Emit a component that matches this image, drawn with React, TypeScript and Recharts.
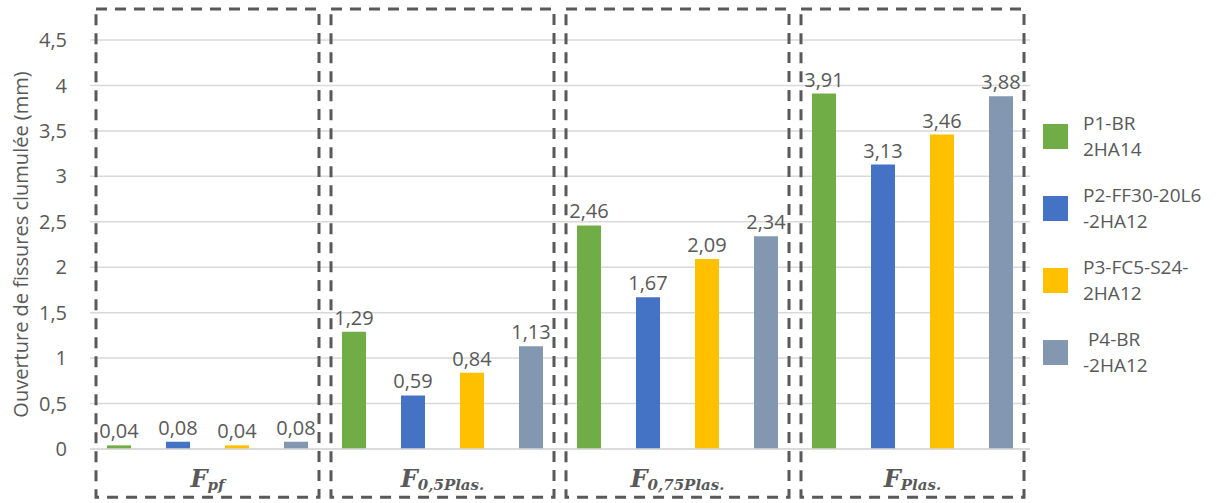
import React from "react";
import {
  BarChart,
  Bar,
  XAxis,
  YAxis,
  CartesianGrid,
  LabelList,
  ReferenceArea,
} from "recharts";

// categories: "F" with a subscript
const categories = ["pf", "0,5Plas.", "0,75Plas.", "Plas."];

const p1 = [0.04, 1.29, 2.46, 3.91];
const p2 = [0.08, 0.59, 1.67, 3.13];
const p3 = [0.04, 0.84, 2.09, 3.46];
const p4 = [0.08, 1.13, 2.34, 3.88];

const seriesKeys = ["p1", "p2", "p3", "p4"];
const seriesLabels = [
  ["P1-BR", "2HA14"],
  ["P2-FF30-20L6", "-2HA12"],
  ["P3-FC5-S24-", "2HA12"],
  [" P4-BR", "-2HA12"],
];
const seriesColors = ["#70AD47", "#4472C4", "#FFC000", "#8497B0"];

const yTicks = [0, 0.5, 1, 1.5, 2, 2.5, 3, 3.5, 4, 4.5];
const yTitle = "Ouverture de fissures clumulée (mm)";

// dashed frames around each group, in axis units
const frameBottom = -0.53;
const frameTop = 4.84;

const data = categories.map((c, i) => ({
  cat: c,
  p1: p1[i],
  p2: p2[i],
  p3: p3[i],
  p4: p4[i],
}));

const TEXT = "#595959";
const GRID = "#d9d9d9";
const FONT = "'Open Sans', 'DejaVu Sans', sans-serif";

const fmt = (v: any) => String(v).replace(".", ",");

const CatTick = (props: any) => {
  const { x, y, payload } = props;
  return (
    <text
      x={x}
      y={y}
      dy={36}
      textAnchor="middle"
      fill={TEXT}
      fontFamily="'DejaVu Serif', serif"
      fontWeight="bold"
      fontStyle="italic"
    >
      <tspan fontSize={24}>F</tspan>
      <tspan fontSize={15} dy={3}>
        {payload.value}
      </tspan>
    </text>
  );
};

const Frame = (props: any) => {
  const { x, y, width, height } = props;
  return (
    <rect
      x={x + 6}
      y={y}
      width={width - 12}
      height={height}
      fill="none"
      stroke={TEXT}
      strokeWidth={3}
      strokeDasharray="11 8"
    />
  );
};

const YTitle = (props: any) => {
  const vb = props.viewBox || {};
  const cx = 20;
  const cy = vb.y + vb.height / 2;
  return (
    <text
      x={cx}
      y={cy}
      transform={`rotate(-90, ${cx}, ${cy})`}
      textAnchor="middle"
      dominantBaseline="central"
      fill={TEXT}
      fontSize={20}
      fontFamily={FONT}
    >
      {yTitle}
    </text>
  );
};

export default function App() {
  return (
    <div style={{ position: "relative", width: 1220, height: 503, background: "#fff" }}>
      <style>{`body{margin:0;}`}</style>
      <BarChart
        width={1220}
        height={503}
        data={data}
        margin={{ top: 40, right: 190, left: 0, bottom: 0 }}
        barSize={24}
        barGap={35}
      >
        <CartesianGrid vertical={false} stroke={GRID} strokeWidth={1.5} />
        <XAxis
          dataKey="cat"
          height={54}
          axisLine={{ stroke: GRID, strokeWidth: 1.5 }}
          tickLine={false}
          tickSize={0}
          tick={<CatTick />}
          interval={0}
        />
        <YAxis
          width={90}
          domain={[0, 4.5]}
          ticks={yTicks}
          axisLine={false}
          tickLine={false}
          tickSize={0}
          tickMargin={23}
          tickFormatter={fmt}
          tick={{ fill: TEXT, fontSize: 20, fontFamily: FONT }}
          label={{ content: <YTitle /> }}
        />
        {categories.map((c) => (
          <ReferenceArea
            key={c}
            x1={c}
            x2={c}
            y1={frameBottom}
            y2={frameTop}
            ifOverflow="visible"
            shape={<Frame />}
          />
        ))}
        {seriesKeys.map((k, i) => (
          <Bar
            key={k}
            dataKey={k}
            name={seriesLabels[i].join(" ")}
            fill={seriesColors[i]}
            isAnimationActive={false}
          >
            <LabelList
              dataKey={k}
              position="top"
              offset={7}
              formatter={fmt}
              fill={TEXT}
              fontSize={20}
              fontFamily={FONT}
            />
          </Bar>
        ))}
      </BarChart>
      <div
        style={{
          position: "absolute",
          left: 1043,
          top: 100,
          fontFamily: FONT,
          fontSize: 19,
          color: TEXT,
        }}
      >
        {seriesLabels.map((lines, i) => (
          <div
            key={i}
            style={{ display: "flex", alignItems: "center", height: 72 }}
          >
            <div
              style={{
                width: 25,
                height: 25,
                background: seriesColors[i],
                marginRight: 15,
                flexShrink: 0,
              }}
            />
            <div style={{ lineHeight: "26px", whiteSpace: "pre" }}>
              {lines.map((l, j) => (
                <div key={j}>{l}</div>
              ))}
            </div>
          </div>
        ))}
      </div>
    </div>
  );
}
